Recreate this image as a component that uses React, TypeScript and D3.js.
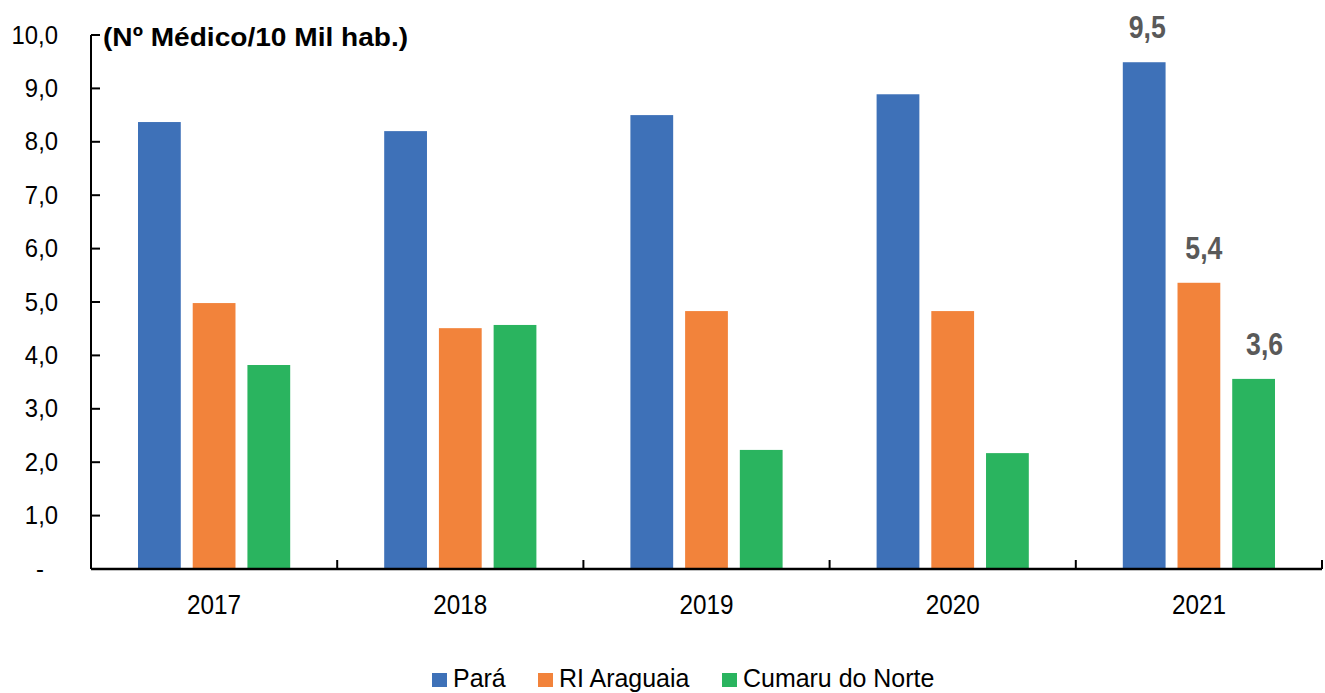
import React, { useEffect } from "react";
import * as d3 from "d3";

const categories = ["2017", "2018", "2019", "2020", "2021"];
const seriesNames = ["Pará", "RI Araguaia", "Cumaru do Norte"];
const para = [8.37, 8.2, 8.5, 8.89, 9.49];
const riAraguaia = [4.98, 4.51, 4.83, 4.83, 5.36];
const cumaru = [3.82, 4.57, 2.23, 2.17, 3.56];
const yTicks = [0, 1, 2, 3, 4, 5, 6, 7, 8, 9, 10];
const colors = ["#3E71B8", "#F2833B", "#2AB45F"];
const labelDx = [3, 5, 11];

const W = 1325;
const H = 693;
const FONT = "'Liberation Sans', Arial, sans-serif";

type TProps = {
  x: number;
  y: number;
  sx?: number;
  size: number;
  anchor?: "start" | "middle" | "end";
  bold?: boolean;
  fill?: string;
  children: React.ReactNode;
};

function T({ x, y, sx = 1, size, anchor = "start", bold = false, fill = "#000", children }: TProps) {
  return (
    <text
      transform={`translate(${x},${y}) scale(${sx},1)`}
      fontSize={size}
      textAnchor={anchor}
      fontWeight={bold ? "bold" : "normal"}
      fill={fill}
    >
      {children}
    </text>
  );
}

export default function App() {
  useEffect(() => {
    document.body.style.margin = "0";
  }, []);
  const series = [para, riAraguaia, cumaru];
  const x0 = 91;
  const x1 = 1322;
  const yTop = 35;
  const yBot = 569;
  const x = d3.scaleBand<string>().domain(categories).range([x0, x1]).paddingInner(0).paddingOuter(0);
  const y = d3.scaleLinear().domain([0, 10]).range([yBot, yTop]);
  const bw = x.bandwidth();
  const groupPad = 47 / 246.2;
  const inner = d3
    .scaleBand<number>()
    .domain([0, 1, 2])
    .range([bw * groupPad, bw * (1 - groupPad)])
    .paddingInner(12 / 55)
    .paddingOuter(0);
  const fmt = (v: number) => v.toFixed(1).replace(".", ",");
  const lastIdx = categories.length - 1;
  const legendX = [432, 538, 722];

  return (
    <svg width={W} height={H} style={{ position: "absolute", left: 0, top: 0 }} fontFamily={FONT}>
      <rect x={0} y={0} width={W} height={H} fill="#fff" />
      {series.map((vals, si) =>
        vals.map((v, ci) => (
          <rect
            key={`${si}-${ci}`}
            x={(x(categories[ci]) as number) + (inner(si) as number)}
            y={y(v)}
            width={inner.bandwidth()}
            height={y(0) - y(v)}
            fill={colors[si]}
          />
        ))
      )}
      {series.map((vals, si) => (
        <T
          key={`lbl-${si}`}
          x={(x(categories[lastIdx]) as number) + (inner(si) as number) + inner.bandwidth() / 2 + labelDx[si]}
          y={y(vals[lastIdx]) - 24}
          size={31}
          sx={0.86}
          anchor="middle"
          bold
          fill="#595959"
        >
          {fmt(vals[lastIdx])}
        </T>
      ))}
      {/* y axis */}
      <line x1={x0} x2={x0} y1={yTop} y2={yBot} stroke="#000" strokeWidth={2} />
      {yTicks.map((t) => (
        <g key={`yt-${t}`}>
          <line x1={x0} x2={x0 + 9} y1={y(t)} y2={y(t)} stroke="#000" strokeWidth={2} />
          <T x={t === 0 ? 44 : 58} y={y(t) + 8.5} size={26.5} sx={0.9} anchor="end">
            {t === 0 ? "-" : fmt(t)}
          </T>
        </g>
      ))}
      {/* x axis */}
      <line x1={x0} x2={x1} y1={yBot} y2={yBot} stroke="#000" strokeWidth={2.5} />
      {[...categories.map((c) => x(c) as number), x1].map((px, i) => (
        <line key={`xt-${i}`} x1={px} x2={px} y1={yBot} y2={yBot - 9} stroke="#000" strokeWidth={2} />
      ))}
      {categories.map((c) => (
        <T key={`xl-${c}`} x={(x(c) as number) + bw / 2} y={614} size={27} sx={0.9} anchor="middle">
          {c}
        </T>
      ))}
      <T x={103} y={46} size={26.5} sx={1.06} bold>
        (Nº Médico/10 Mil hab.)
      </T>
      {seriesNames.map((n, i) => (
        <g key={`lg-${i}`}>
          <rect x={legendX[i]} y={673} width={15} height={14} fill={colors[i]} />
          <T x={legendX[i] + 21} y={687} size={26} sx={0.96}>
            {n}
          </T>
        </g>
      ))}
    </svg>
  );
}
